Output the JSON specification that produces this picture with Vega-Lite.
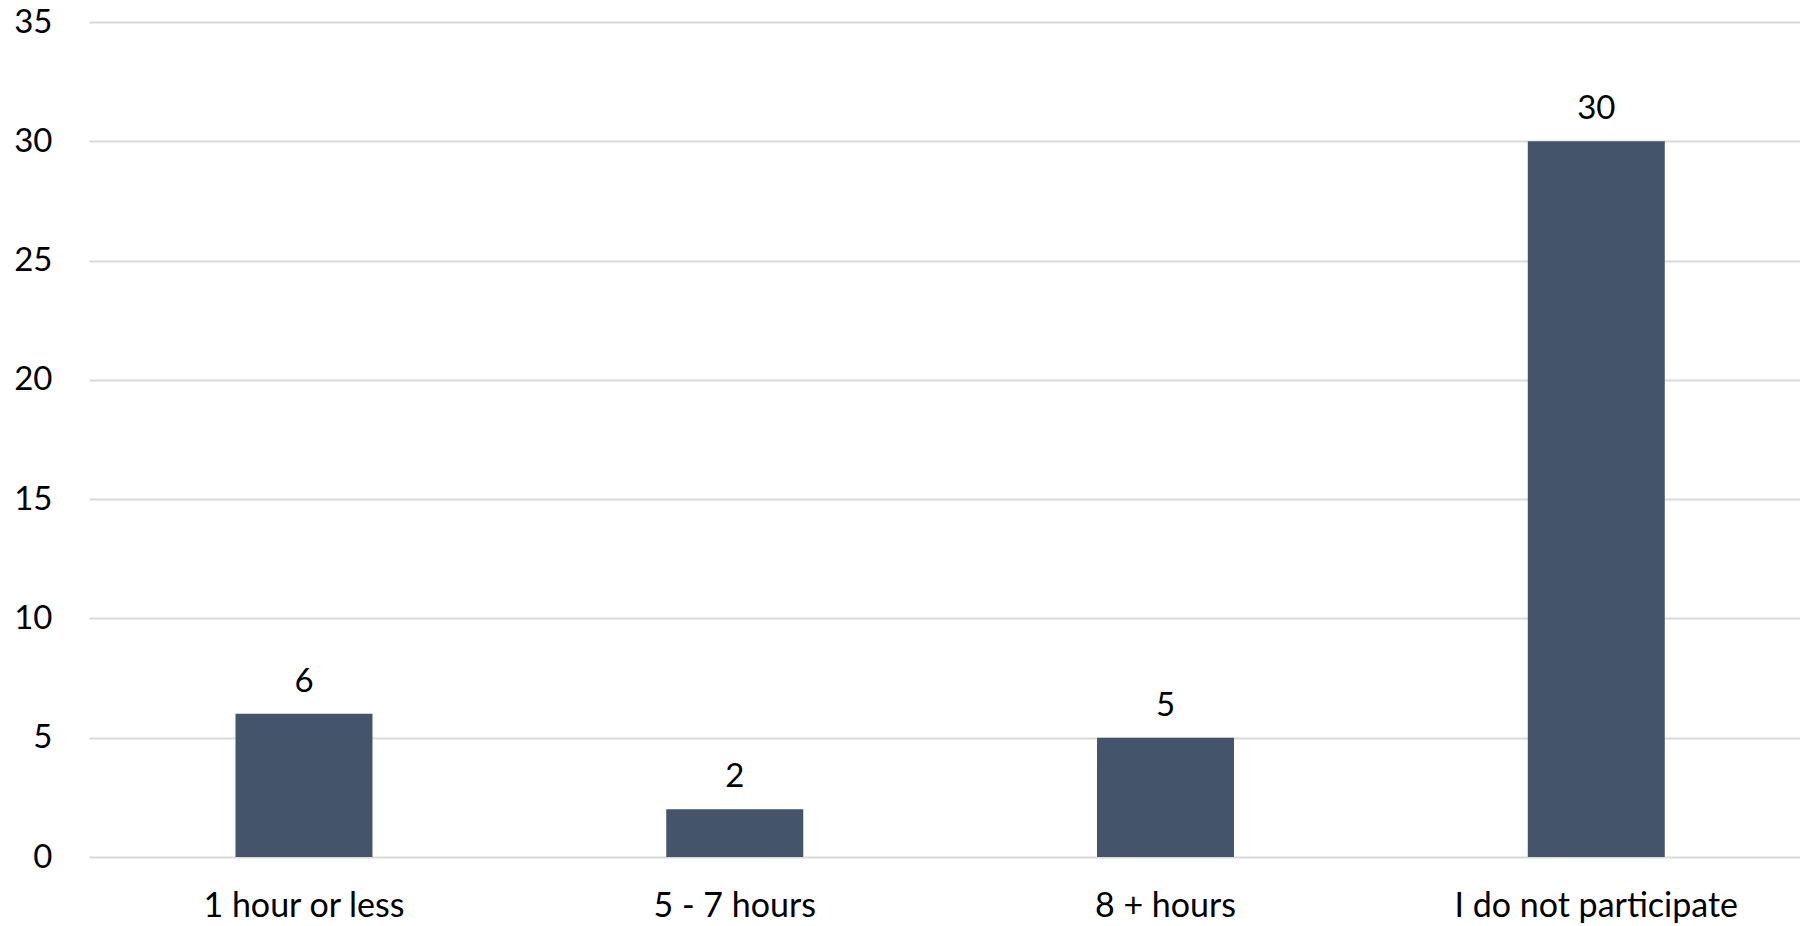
{
  "$schema": "https://vega.github.io/schema/vega-lite/v6.json",
  "autosize": {"type": "none"},
  "padding": {"left": 89, "top": 22, "right": 0, "bottom": 69},
  "width": 1711,
  "height": 835,
  "background": "white",
  "config": {
    "view": {"stroke": null},
    "font": "Lato",
    "axis": {"labelFont": "Lato", "labelColor": "#000000", "labelFontSize": 33, "labelLimit": 0, "domain": false, "ticks": false, "title": null}
  },
  "data": {
    "values": [
      {"category": "1 hour or less", "count": 6},
      {"category": "5 - 7 hours", "count": 2},
      {"category": "8 + hours", "count": 5},
      {"category": "I do not participate", "count": 30}
    ]
  },
  "encoding": {
    "x": {
      "field": "category",
      "type": "nominal",
      "sort": null,
      "scale": {"paddingInner": 0.682, "paddingOuter": 0.327, "align": 0.52},
      "axis": {"labelAngle": 0, "labelPadding": 32, "labelFontSize": 34, "grid": false, "labelBaseline": "top"}
    },
    "y": {
      "field": "count",
      "type": "quantitative",
      "scale": {"domain": [0, 35], "nice": false},
      "axis": {"values": [0, 5, 10, 15, 20, 25, 30, 35], "grid": true, "gridColor": "#D9D9D9", "gridWidth": 2, "labelPadding": 37}
    }
  },
  "layer": [
    {"mark": {"type": "bar", "color": "#44546A"}},
    {
      "mark": {"type": "text", "dy": -32, "fontSize": 33, "font": "Lato", "color": "#000000"},
      "encoding": {"text": {"field": "count", "type": "quantitative"}}
    }
  ]
}
